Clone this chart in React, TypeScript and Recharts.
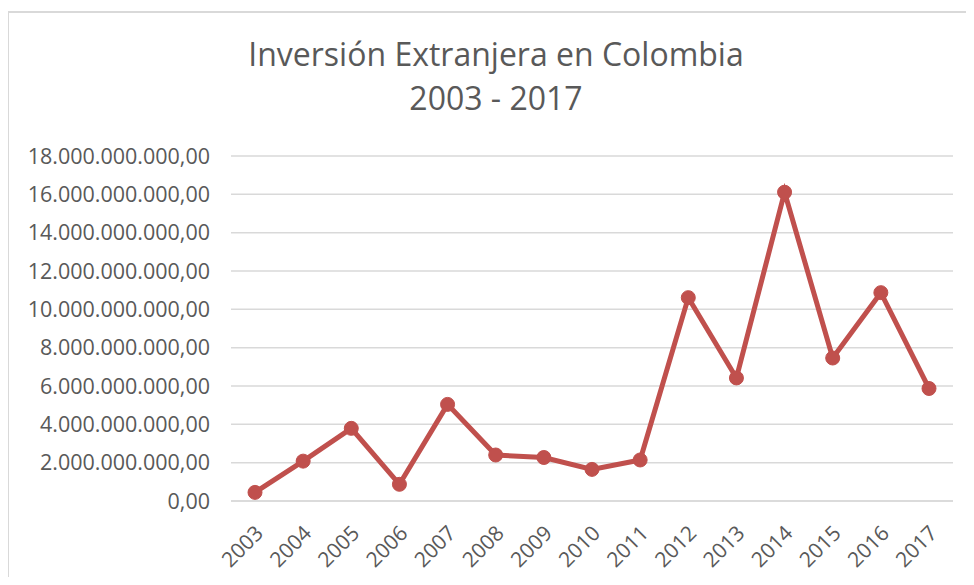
import React from "react";
import { LineChart, Line, XAxis, YAxis, CartesianGrid } from "recharts";

const years = [
  "2003", "2004", "2005", "2006", "2007", "2008", "2009", "2010",
  "2011", "2012", "2013", "2014", "2015", "2016", "2017",
];

const inversion = [
  0.45e9, 2.08e9, 3.79e9, 0.87e9, 5.04e9, 2.4e9, 2.27e9, 1.65e9,
  2.14e9, 10.61e9, 6.42e9, 16.11e9, 7.46e9, 10.87e9, 5.87e9,
];

const yTicks = [0, 2e9, 4e9, 6e9, 8e9, 10e9, 12e9, 14e9, 16e9, 18e9];

const titleLines = ["Inversión Extranjera en Colombia", "2003 - 2017"];

const formatNum = (v: number) => {
  const int = Math.round(v).toString().replace(/\B(?=(\d{3})+(?!\d))/g, ".");
  return int + ",00";
};

const FONT = "'Open Sans', sans-serif";
const GRAY = "#595959";

export default function App() {
  const data = years.map((y, i) => ({ year: y, value: inversion[i] }));

  return (
    <div style={{ position: "relative", width: 974, height: 585, margin: -8, background: "#fff", fontFamily: FONT }}>
      <div
        style={{
          position: "absolute",
          top: 32,
          left: 0,
          width: 992,
          textAlign: "center",
          color: GRAY,
          fontSize: 32,
          lineHeight: "44px",
        }}
      >
        {titleLines.map((t) => (
          <div key={t}>{t}</div>
        ))}
      </div>
      <div style={{ position: "absolute", left: 0, top: 0 }}>
        <LineChart width={974} height={585} data={data} margin={{ top: 156, right: 21, bottom: 0, left: 0 }}>
          <CartesianGrid vertical={false} stroke="#d9d9d9" strokeWidth={1.5} />
          <XAxis
            dataKey="year"
            height={84}
            padding={{ left: 24, right: 24 }}
            axisLine={{ stroke: "#d9d9d9", strokeWidth: 1.5 }}
            tickLine={false}
            interval={0}
            angle={-45}
            textAnchor="end"
            tickMargin={17}
            tick={{ fill: GRAY, fontSize: 21, fontFamily: FONT, dx: -1 }}
          />
          <YAxis
            width={231}
            domain={[0, 18e9]}
            ticks={yTicks}
            tickFormatter={formatNum}
            axisLine={false}
            tickLine={false}
            tickMargin={15}
            tick={{ fill: GRAY, fontSize: 21.5, fontFamily: FONT }}
          />
          <Line
            dataKey="value"
            stroke="#c0504d"
            strokeWidth={5}
            dot={{ r: 7, fill: "#c0504d", stroke: "#c0504d", strokeWidth: 1 }}
            activeDot={false}
            isAnimationActive={false}
          />
        </LineChart>
      </div>
      <div style={{ position: "absolute", left: 7, top: 11, width: 2, height: 580, background: "#d9d9d9" }} />
      <div style={{ position: "absolute", left: 7, top: 11, width: 970, height: 2, background: "#d9d9d9" }} />
    </div>
  );
}
